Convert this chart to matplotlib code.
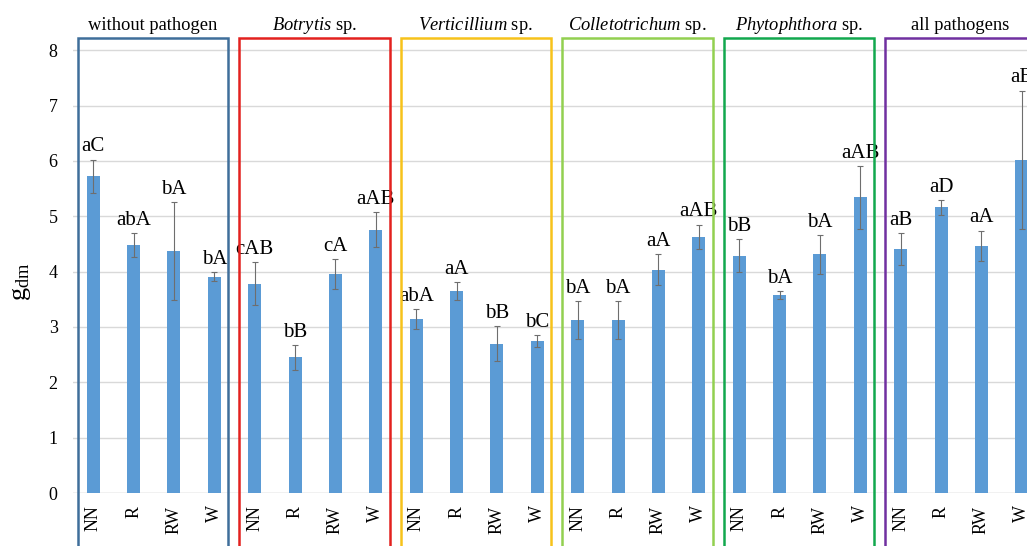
import matplotlib.pyplot as plt
from matplotlib.patches import Rectangle
import numpy as np

plt.rcParams['font.family'] = ['Liberation Serif', 'DejaVu Serif']
plt.rcParams['mathtext.fontset'] = 'custom'
plt.rcParams['mathtext.rm'] = 'Liberation Serif'
plt.rcParams['mathtext.it'] = 'Liberation Serif:italic'

treatments = ['NN', 'R', 'RW', 'W']
groups = ['without pathogen', r'$\it{Botrytis}$ sp.', r'$\it{Verticillium}$ sp.',
          r'$\it{Colletotrichum}$ sp.', r'$\it{Phytophthora}$ sp.', 'all pathogens']
box_colors = ['#3F6E9A', '#E3211E', '#F7C21A', '#92D050', '#12A84E', '#7030A0']

# mean g_dm per treatment, one list per pathogen group
means = [
    [5.72, 4.48, 4.37, 3.91],
    [3.78, 2.45, 3.96, 4.76],
    [3.14, 3.65, 2.70, 2.74],
    [3.13, 3.13, 4.03, 4.63],
    [4.29, 3.58, 4.31, 5.34],
    [4.41, 5.16, 4.47, 6.02],
]
errors = [
    [0.30, 0.21, 0.88, 0.08],
    [0.39, 0.22, 0.27, 0.31],
    [0.18, 0.16, 0.32, 0.11],
    [0.34, 0.34, 0.28, 0.22],
    [0.30, 0.07, 0.35, 0.57],
    [0.29, 0.13, 0.27, 1.25],
]
letters = [
    ['aC', 'abA', 'bA', 'bA'],
    ['cAB', 'bB', 'cA', 'aAB'],
    ['abA', 'aA', 'bB', 'bC'],
    ['bA', 'bA', 'aA', 'aAB'],
    ['bB', 'bA', 'bA', 'aAB'],
    ['aB', 'aD', 'aA', 'aB'],
]

W, H = 1027, 546
fig = plt.figure(figsize=(W / 100, H / 100), dpi=100)
ax = fig.add_axes([73 / W, 53 / H, 969 / W, 455 / H])

y = np.concatenate(means)
yerr = np.concatenate(errors)
x = np.arange(len(y))
ax.bar(x, y, width=0.32, color='#5B9BD5', zorder=2)
ax.errorbar(x, y, yerr=yerr, fmt='none', ecolor='#6E6E6E', elinewidth=0.8,
            capsize=2.5, capthick=0.8, zorder=3)

for xi, yi, ei, lab in zip(x, y, yerr, np.concatenate(letters)):
    ax.annotate(lab, (xi, yi + ei), xytext=(0, 6), textcoords='offset points',
                ha='center', va='baseline', fontsize=15)

# coloured frames and headings for each pathogen group
for g, (name, col) in enumerate(zip(groups, box_colors)):
    left = 4 * g - 0.38
    ax.add_patch(Rectangle((left, -1.3), 3.72, 8.22 + 1.3, fill=False,
                           edgecolor=col, lw=1.8, clip_on=False, zorder=4))
    ax.text(4 * g + 1.48, 8.36, name, ha='center', va='baseline', fontsize=13.3)

ax.set_xlim(-0.5, 23.5)
ax.set_ylim(0, 8.22)
ax.set_yticks(range(0, 9))
ax.set_xticks(x)
ax.set_xticklabels(treatments * len(groups), rotation=90)
ax.tick_params(axis='both', length=0, labelsize=13)
ax.tick_params(axis='y', pad=11)
ax.tick_params(axis='x', pad=9)
ax.grid(axis='y', color='#D9D9D9', lw=1, zorder=0)
ax.set_axisbelow(True)
for s in ax.spines.values():
    s.set_visible(False)
ax.axhline(0, color='#D9D9D9', lw=1, zorder=1)

ax.set_ylabel(r'$\mathrm{g}_{\mathrm{dm}}$', fontsize=19)
ax.yaxis.set_label_coords(-40 / 969, (493 - 282) / 455)

fig.savefig('out.png', dpi=100)
